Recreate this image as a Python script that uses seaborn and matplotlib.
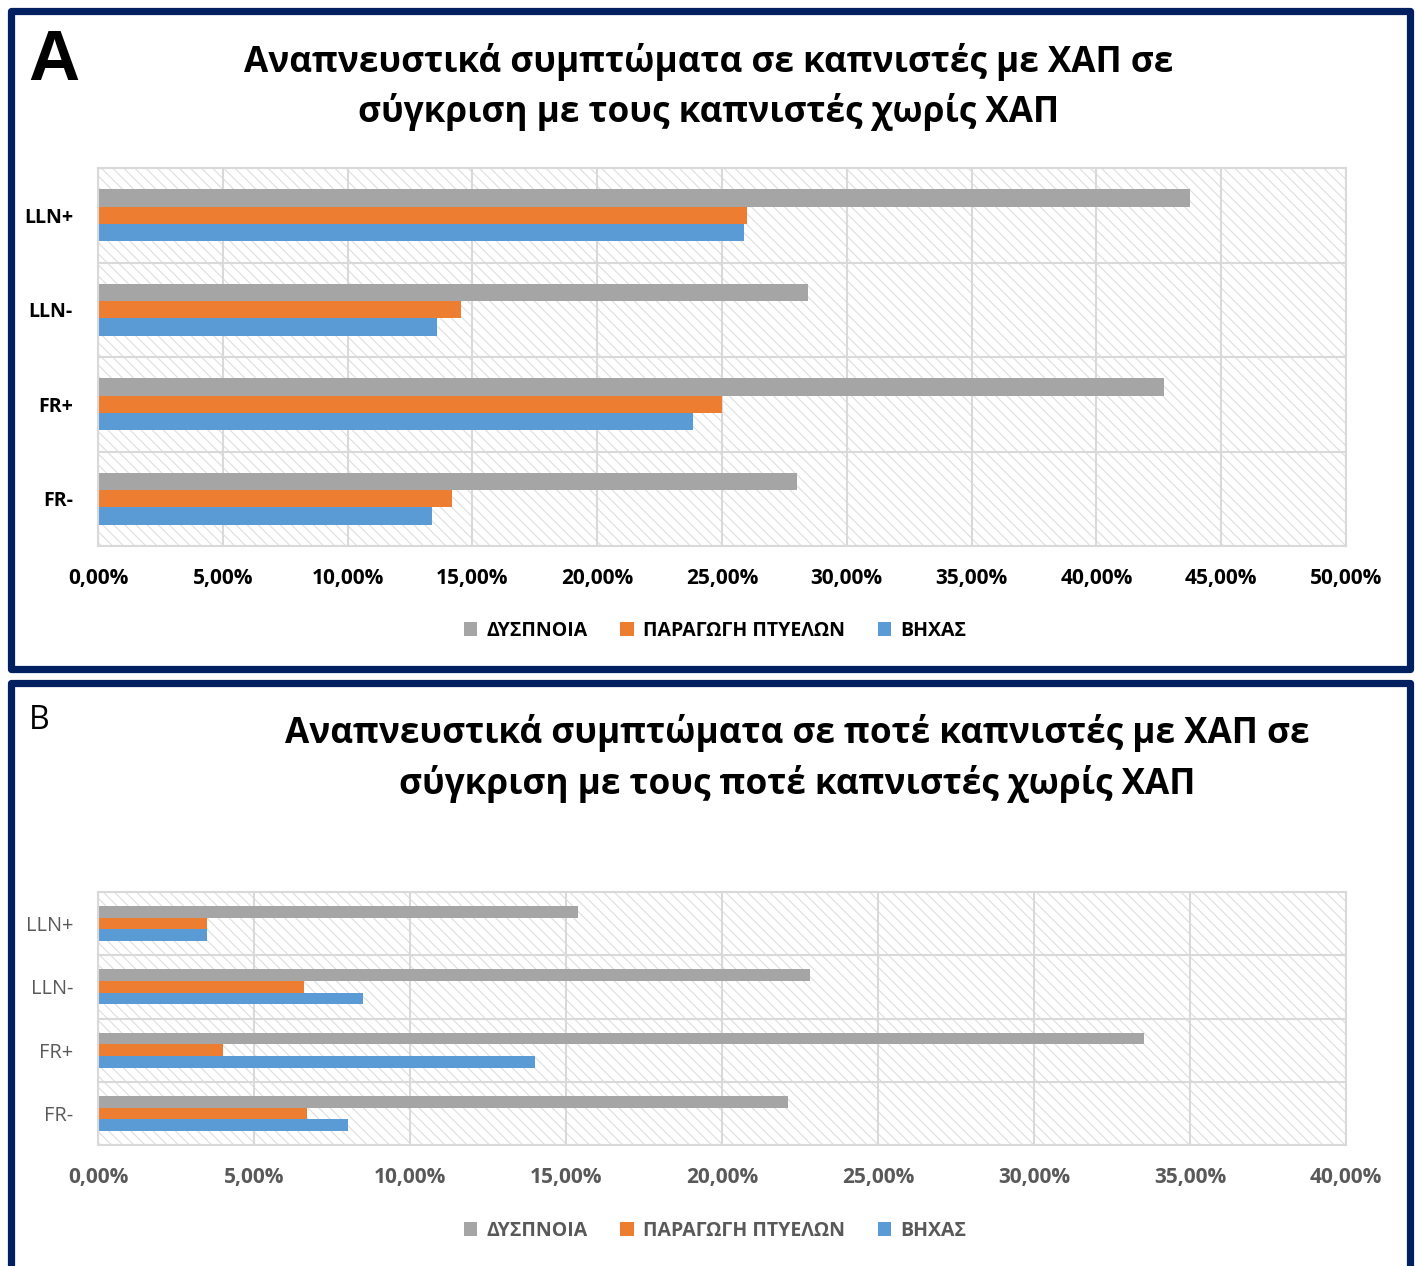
import matplotlib
matplotlib.use("Agg")
import matplotlib.pyplot as plt
from matplotlib.patches import Rectangle
from matplotlib.ticker import FuncFormatter, MultipleLocator
import pandas as pd
import seaborn as sns

# ---- data -------------------------------------------------------------
categories = ["LLN+", "LLN-", "FR+", "FR-"]
series = ["ΔΥΣΠΝΟΙΑ", "ΠΑΡΑΓΩΓΗ ΠΤΥΕΛΩΝ", "ΒΗΧΑΣ"]
colors = ["#A5A5A5", "#ED7D31", "#5B9BD5"]

# A: current smokers (percent)
smokers_dyspnea = [43.76, 28.44, 42.72, 28.00]
smokers_sputum = [26.00, 14.55, 25.00, 14.20]
smokers_cough = [25.90, 13.60, 23.84, 13.40]

# B: never smokers (percent)
never_dyspnea = [15.38, 22.83, 33.53, 22.13]
never_sputum = [3.49, 6.61, 4.00, 6.70]
never_cough = [3.49, 8.49, 14.00, 8.00]

title_a = ["Αναπνευστικά συμπτώματα σε καπνιστές με ΧΑΠ σε",
           "σύγκριση με τους καπνιστές χωρίς ΧΑΠ"]
title_b = ["Αναπνευστικά συμπτώματα σε ποτέ καπνιστές με ΧΑΠ σε",
           "σύγκριση με τους ποτέ καπνιστές χωρίς ΧΑΠ"]


def long_table(dys, spu, cou):
    rows = []
    for name, vals in zip(series, [dys, spu, cou]):
        for cat, v in zip(categories, vals):
            rows.append({"group": cat, "symptom": name, "value": v})
    return pd.DataFrame(rows)


df_a = long_table(smokers_dyspnea, smokers_sputum, smokers_cough)
df_b = long_table(never_dyspnea, never_sputum, never_cough)

# ---- figure -----------------------------------------------------------
sns.set_theme(style="white")
plt.rcParams["font.family"] = ["Open Sans", "DejaVu Sans"]
plt.rcParams["hatch.linewidth"] = 0.8
for key in ["text.color", "axes.labelcolor", "xtick.color", "ytick.color"]:
    plt.rcParams[key] = "black"

W, H = 1415, 1266
fig = plt.figure(figsize=(W / 100, H / 100), dpi=100)
fig.patch.set_facecolor("white")


def fx(x):
    return x / W


def fy(y):
    return 1 - y / H


GRID = "#D9D9D9"
NAVY = "#002060"

# panel frames
for top, bottom in [(11, 669), (683, 1268)]:
    fig.add_artist(Rectangle((fx(11), fy(bottom)), fx(1410) - fx(11), fy(top) - fy(bottom),
                             transform=fig.transFigure, facecolor="none",
                             edgecolor=NAVY, linewidth=5.2, joinstyle="round"))

pct = FuncFormatter(lambda v, _: f"{v:.2f}%".replace(".", ","))


def draw_panel(ax, data, xmax, ylab_style, xlab_color, legend_color, legend_y):
    ax.add_patch(Rectangle((0, 0), 1, 1, transform=ax.transAxes, facecolor="white",
                           edgecolor="#DEDEDE", linewidth=0, hatch="\\\\\\", zorder=0.1))
    sns.barplot(data=data, y="group", x="value", hue="symptom", order=categories,
                hue_order=series, palette=colors, orient="h", width=0.55,
                saturation=1, errorbar=None, linewidth=0, ax=ax, zorder=2)
    ax.set_xlim(0, xmax)
    ax.set_ylim(len(categories) - 0.5, -0.5)
    ax.xaxis.set_major_locator(MultipleLocator(5))
    ax.xaxis.set_major_formatter(pct)
    ax.set_axisbelow(True)
    ax.grid(axis="x", which="major", color=GRID, linewidth=1.5)
    ax.set_yticks([i - 0.5 for i in range(len(categories) + 1)], minor=True)
    ax.grid(axis="y", which="minor", color=GRID, linewidth=1.5)
    ax.grid(axis="y", which="major", visible=False)
    for s in ax.spines.values():
        s.set_color(GRID)
        s.set_linewidth(1.5)
    ax.set_xlabel("")
    ax.set_ylabel("")
    ax.tick_params(axis="y", which="minor", length=7, width=1.5, color=GRID)
    ax.tick_params(axis="y", which="major", length=0, pad=18)
    ax.tick_params(axis="x", which="major", length=0, pad=16, labelsize=15,
                   labelcolor=xlab_color)
    for lab in ax.get_xticklabels():
        lab.set_fontweight("bold")
    for lab in ax.get_yticklabels():
        lab.set_fontsize(ylab_style[2])
        lab.set_fontweight(ylab_style[0])
        lab.set_color(ylab_style[1])
    sns.move_legend(ax, "center", bbox_to_anchor=(0.4944, legend_y), ncol=3,
                    frameon=False, title=None, handlelength=0.7, handleheight=0.7,
                    handletextpad=0.45, columnspacing=1.7,
                    prop={"size": 14, "weight": "bold"})
    for t in ax.get_legend().get_texts():
        t.set_color(legend_color)


ax_a = fig.add_axes([fx(98), fy(546), fx(1346) - fx(98), fy(168) - fy(546)])
draw_panel(ax_a, df_a, 50, ("bold", "black", 14), "black", "black", -0.225)

ax_b = fig.add_axes([fx(98), fy(1145), fx(1346) - fx(98), fy(892) - fy(1145)])
draw_panel(ax_b, df_b, 40, ("normal", "#595959", 14.3), "#595959", "#595959", -0.34)

# panel letters and titles
fig.text(fx(28), fy(80), "A", fontsize=51, fontweight="bold", color="black",
         family=["Liberation Sans", "DejaVu Sans"], va="baseline", ha="left")
fig.text(fx(29), fy(729), "B", fontsize=23, color="black", va="baseline", ha="left")

for line, base in zip(title_a, [72, 122]):
    fig.text(fx(709), fy(base), line, fontsize=25.3, fontweight="bold", color="black",
             ha="center", va="baseline")
for line, base in zip(title_b, [743, 794]):
    fig.text(fx(797), fy(base), line, fontsize=25.3, fontweight="bold", color="black",
             ha="center", va="baseline")

fig.savefig("out.png", dpi=100, facecolor="white")
